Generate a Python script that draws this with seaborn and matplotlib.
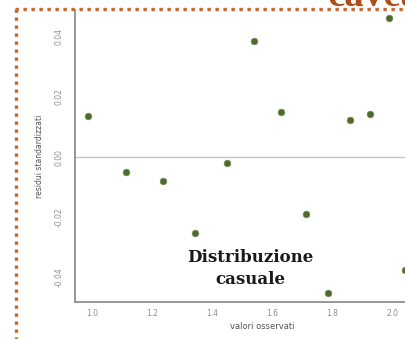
import numpy as np
import pandas as pd
import matplotlib
matplotlib.use("Agg")
import matplotlib.pyplot as plt
from matplotlib.lines import Line2D
import seaborn as sns

# Data
valori_osservati = [0.987, 1.113, 1.237, 1.343, 1.450, 1.540, 1.630, 1.713, 1.787, 1.860, 1.927, 1.990, 2.043]
residui_standardizzati = [0.0136, -0.0050, -0.0080, -0.0252, -0.0020, 0.0385, 0.0149, -0.0189, -0.0452, 0.0123, 0.0143, 0.0461, -0.0375]
x_ticks = [1.0, 1.2, 1.4, 1.6, 1.8, 2.0]
y_ticks = [-0.04, -0.02, 0.00, 0.02, 0.04]
x_label = "valori osservati"
y_label = "residui standardizzati"
annotation = ["Distribuzione", "casuale"]
title_fragment = "caveat"

df = pd.DataFrame({"x": valori_osservati, "y": residui_standardizzati})

sns.set_style("white")
W, H = 406, 339
fig = plt.figure(figsize=(W / 100, H / 100), dpi=100)

# axes: left spine at x=75px, bottom at y=302px, top at y=10px, extends past right edge
ax = fig.add_axes([75 / W, (H - 302) / H, (450 - 75) / W, (302 - 10) / H])
ax.axhline(0, color="#c4c4c4", lw=1.0, zorder=1)
sns.scatterplot(data=df, x="x", y="y", ax=ax, color="#4d6b2a", s=24,
                edgecolor="#7d9560", linewidth=0.4, zorder=3, clip_on=False)

ax.set_xlim(0.943, 2.193)
ax.set_ylim(-0.0481, 0.0488)
ax.set_xticks(x_ticks)
ax.set_xticklabels([f"{v:.1f}" for v in x_ticks])
ax.set_yticks(y_ticks)
ax.set_yticklabels([f"{v:.2f}" for v in y_ticks], rotation=90, va="center")
ax.tick_params(axis="both", which="both", direction="out", length=3, width=1,
               color="#8a8a8a", labelsize=5.5, labelcolor="#909090", pad=2)
ax.tick_params(axis="y", length=4, pad=4)
for side in ["top", "right"]:
    ax.spines[side].set_visible(False)
for side in ["left", "bottom"]:
    ax.spines[side].set_color("#8f8f8f")
    ax.spines[side].set_linewidth(1.3)
ax.set_xlabel(x_label, fontsize=6, color="#555555", labelpad=3)
ax.set_ylabel(y_label, fontsize=5.5, color="#555555", labelpad=8)

# annotation (two centred lines)
fig.text(250 / W, 1 - 257 / H, annotation[0], ha="center", va="center",
         fontsize=12, fontweight="bold", family="DejaVu Serif", color="#1a1a1a")
fig.text(250 / W, 1 - 280 / H, annotation[1], ha="center", va="center",
         fontsize=12, fontweight="bold", family="DejaVu Serif", color="#1a1a1a")

# slide title fragment, cut off at top
fig.text(328 / W, 1 - 6 / H, title_fragment, ha="left", va="baseline",
         fontsize=28, fontweight="bold", family="Liberation Serif", color="#ad4e18")

# dotted orange border (top and left)
border = dict(color="#c8672e", lw=2.4, linestyle=(0, (1, 1.4)), solid_capstyle="butt",
              dash_capstyle="butt")
fig.add_artist(Line2D([15 / W, 1.0], [1 - 9 / H, 1 - 9 / H], transform=fig.transFigure, **border))
fig.add_artist(Line2D([16 / W, 16 / W], [1 - 9 / H, 0.0], transform=fig.transFigure, **border))

fig.savefig("out.png", dpi=100)
